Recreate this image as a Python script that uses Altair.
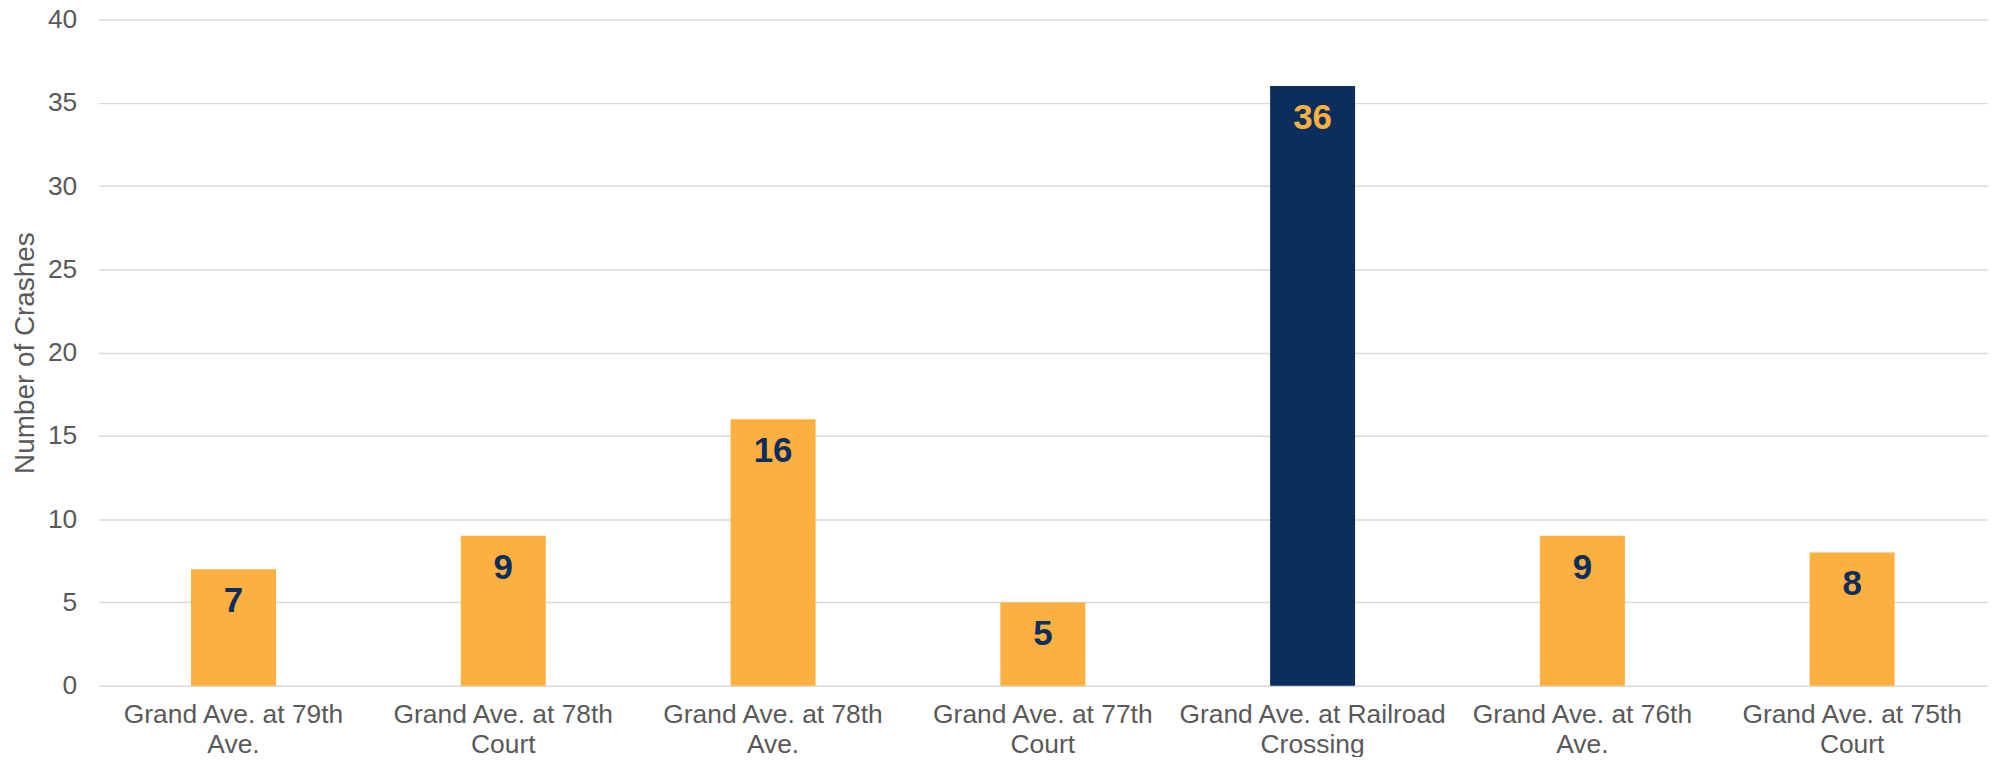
import altair as alt
import pandas as pd

categories = [
    "Grand Ave. at 79th Ave.",
    "Grand Ave. at 78th Court",
    "Grand Ave. at 78th Ave.",
    "Grand Ave. at 77th Court",
    "Grand Ave. at Railroad Crossing",
    "Grand Ave. at 76th Ave.",
    "Grand Ave. at 75th Court",
]
crashes = [7, 9, 16, 5, 36, 9, 8]
highlighted = "Grand Ave. at Railroad Crossing"

df = pd.DataFrame({"location": categories, "crashes": crashes})

ORANGE = "#FBB040"
NAVY = "#0B2E5E"
FONT = "Liberation Sans"

x = alt.X(
    "location:N",
    sort=categories,
    title=None,
    scale=alt.Scale(paddingInner=0.685, paddingOuter=0.3425),
    axis=alt.Axis(
        labelAngle=0,
        ticks=False,
        domain=False,
        labelFontSize=26.5,
        labelColor="#595959",
        labelFont=FONT,
        labelPadding=16,
        labelLineHeight=30,
        labelBaseline="top",
        labelLimit=500,
        labelExpr="[substring(datum.label, 0, lastindexof(datum.label, ' ')), substring(datum.label, lastindexof(datum.label, ' ') + 1)]",
    ),
)
y = alt.Y(
    "crashes:Q",
    title="Number of Crashes",
    scale=alt.Scale(domain=[0, 40]),
    axis=alt.Axis(
        values=[0, 5, 10, 15, 20, 25, 30, 35, 40],
        ticks=False,
        domain=False,
        grid=True,
        gridColor="#D9D9D9",
        gridWidth=1.5,
        labelFontSize=26.5,
        labelColor="#595959",
        labelFont=FONT,
        labelPadding=22,
        titleFontSize=28,
        titleFontWeight="normal",
        titleColor="#595959",
        titleFont=FONT,
        titlePadding=8,
    ),
)

is_hi = alt.datum.location == highlighted

bars = alt.Chart(df).mark_bar().encode(
    x=x,
    y=y,
    color=alt.condition(is_hi, alt.value(NAVY), alt.value(ORANGE)),
)

labels = alt.Chart(df).mark_text(
    baseline="middle", dy=32, fontSize=35, fontWeight="bold", font=FONT
).encode(
    x=alt.X("location:N", sort=categories),
    y=alt.Y("crashes:Q"),
    text=alt.Text("crashes:Q"),
    color=alt.condition(is_hi, alt.value(ORANGE), alt.value(NAVY)),
)

chart = (
    alt.layer(bars, labels)
    .properties(
        width=1896,
        height=669,
        background="white",
        autosize=alt.AutoSizeParams(type="none"),
        padding={"left": 91, "top": 10, "right": 5, "bottom": 70},
    )
    .configure_view(strokeWidth=0, stroke=None)
)

chart.save("out.html", embed_options={"renderer": "svg", "actions": False})
